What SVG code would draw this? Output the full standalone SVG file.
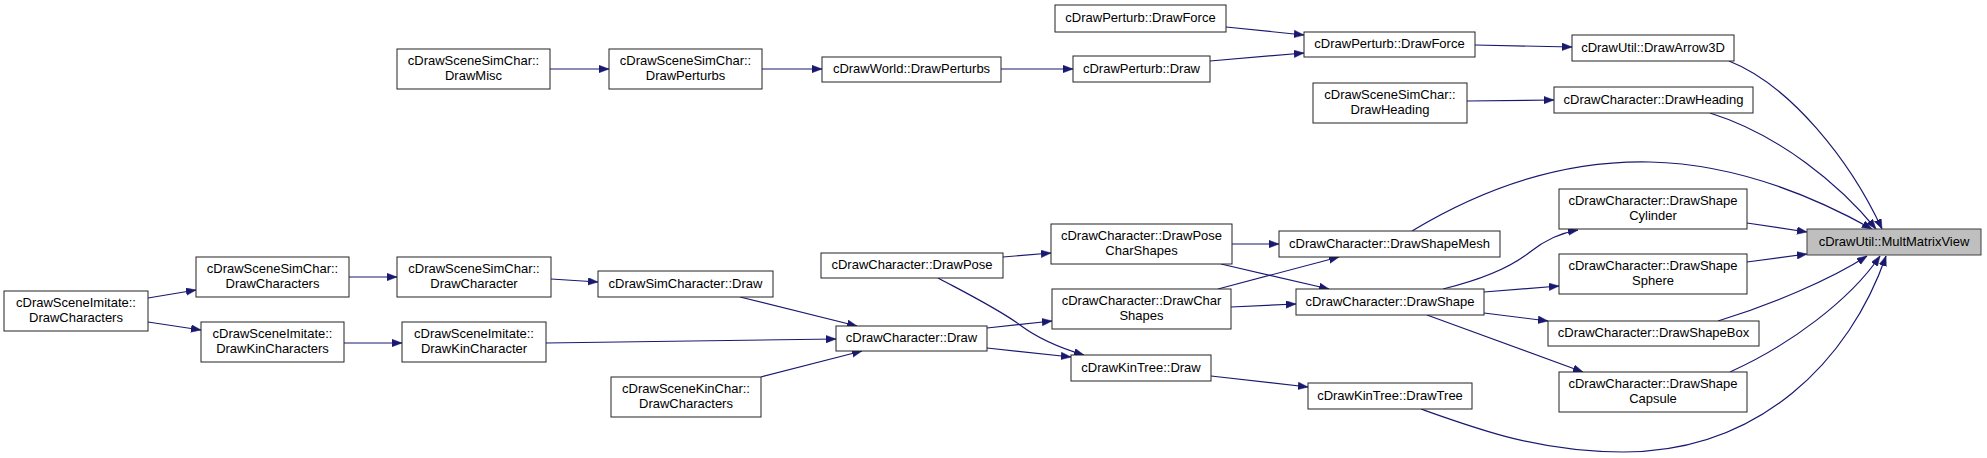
<svg xmlns="http://www.w3.org/2000/svg" width="1987" height="458" viewBox="0 0 1987 458">
<style>
.n rect{fill:#fff;stroke:#222;stroke-width:1}
.f rect{fill:#bfbfbf;stroke:#404040;stroke-width:1}
text{font-family:"Liberation Sans",Arial,sans-serif;font-size:13px;fill:#000;text-anchor:middle}
.e path{fill:none;stroke:#191970;stroke-width:1.2;marker-end:url(#ah)}
</style>
<defs>
<marker id="ah" markerUnits="userSpaceOnUse" markerWidth="11" markerHeight="8" refX="10" refY="3.75" orient="auto">
<path d="M0,0 L10,3.75 L0,7.5 z" fill="#191970" stroke="#191970" stroke-width="0.5"/>
</marker>
</defs>
<rect width="1987" height="458" fill="#fff"/>
<g class="e" id="edges">
<path d="M550,69 L609,69"/>
<path d="M762,69 L822,69"/>
<path d="M1001,69 L1073,69"/>
<path d="M1210,61 L1304,53"/>
<path d="M1226,27 L1304,35"/>
<path d="M1475,45 L1572,47"/>
<path d="M1467,101 L1554,100"/>
<path d="M1729,61 C1790,85 1850,160 1882,229"/>
<path d="M1710,113 C1780,135 1840,185 1876,229"/>
<path d="M1412,231 C1480,190 1560,160 1650,162 C1740,164 1820,200 1872,229"/>
<path d="M1443,289 C1480,280 1510,268 1530,252 C1545,240 1560,233 1578,230"/>
<path d="M1484,292 L1559,286"/>
<path d="M1484,313 L1548,321"/>
<path d="M1427,315 L1583,372"/>
<path d="M1747,223 L1807,232"/>
<path d="M1747,262 L1807,254"/>
<path d="M1718,321 C1770,305 1830,280 1867,256"/>
<path d="M1730,372 C1790,345 1850,300 1880,256"/>
<path d="M1421,409 C1480,430 1540,452 1623,452 C1760,452 1850,360 1886,256"/>
<path d="M148,298 L196,290"/>
<path d="M148,322 L201,330"/>
<path d="M349,277 L397,277"/>
<path d="M344,343 L402,343"/>
<path d="M551,279 L598,282"/>
<path d="M546,343 L836,339"/>
<path d="M740,297 L857,326"/>
<path d="M761,377 L862,351"/>
<path d="M987,328 L1052,321"/>
<path d="M987,348 L1071,357"/>
<path d="M1003,257 L1051,253"/>
<path d="M938,278 C970,295 1000,310 1020,325 C1040,340 1060,348 1084,355"/>
<path d="M1232,244 L1279,244"/>
<path d="M1221,264 L1329,289"/>
<path d="M1218,289 L1339,257"/>
<path d="M1231,307 L1296,304"/>
<path d="M1211,376 L1308,387"/>
</g>
<g class="n" id="n1"><rect x="397" y="49" width="153" height="40"/><text x="473.5" y="65">cDrawSceneSimChar::</text><text x="473.5" y="80">DrawMisc</text></g>
<g class="n" id="n2"><rect x="609" y="49" width="153" height="40"/><text x="685.5" y="65">cDrawSceneSimChar::</text><text x="685.5" y="80">DrawPerturbs</text></g>
<g class="n" id="n3"><rect x="822" y="57" width="179" height="25"/><text x="911.5" y="73">cDrawWorld::DrawPerturbs</text></g>
<g class="n" id="n4"><rect x="1073" y="56" width="137" height="26"/><text x="1141.5" y="73">cDrawPerturb::Draw</text></g>
<g class="n" id="n5"><rect x="1055" y="5" width="171" height="27"/><text x="1140.5" y="22">cDrawPerturb::DrawForce</text></g>
<g class="n" id="n6"><rect x="1304" y="32" width="171" height="25"/><text x="1389.5" y="48">cDrawPerturb::DrawForce</text></g>
<g class="n" id="n7"><rect x="1572" y="35" width="162" height="26"/><text x="1653" y="52">cDrawUtil::DrawArrow3D</text></g>
<g class="n" id="n8"><rect x="1313" y="83" width="154" height="40"/><text x="1390" y="99">cDrawSceneSimChar::</text><text x="1390" y="114">DrawHeading</text></g>
<g class="n" id="n9"><rect x="1554" y="87" width="199" height="26"/><text x="1653.5" y="104">cDrawCharacter::DrawHeading</text></g>
<g class="f" id="n10"><rect x="1807" y="229" width="174" height="26"/><text x="1894" y="246">cDrawUtil::MultMatrixView</text></g>
<g class="n" id="n11"><rect x="1559" y="189" width="188" height="40"/><text x="1653" y="205">cDrawCharacter::DrawShape</text><text x="1653" y="220">Cylinder</text></g>
<g class="n" id="n12"><rect x="1559" y="254" width="188" height="40"/><text x="1653" y="270">cDrawCharacter::DrawShape</text><text x="1653" y="285">Sphere</text></g>
<g class="n" id="n13"><rect x="1548" y="321" width="211" height="25"/><text x="1653.5" y="337">cDrawCharacter::DrawShapeBox</text></g>
<g class="n" id="n14"><rect x="1559" y="372" width="188" height="40"/><text x="1653" y="388">cDrawCharacter::DrawShape</text><text x="1653" y="403">Capsule</text></g>
<g class="n" id="n15"><rect x="1279" y="231" width="221" height="26"/><text x="1389.5" y="248">cDrawCharacter::DrawShapeMesh</text></g>
<g class="n" id="n16"><rect x="1296" y="289" width="188" height="26"/><text x="1390" y="306">cDrawCharacter::DrawShape</text></g>
<g class="n" id="n17"><rect x="1051" y="224" width="181" height="40"/><text x="1141.5" y="240">cDrawCharacter::DrawPose</text><text x="1141.5" y="255">CharShapes</text></g>
<g class="n" id="n18"><rect x="1052" y="289" width="179" height="40"/><text x="1141.5" y="305">cDrawCharacter::DrawChar</text><text x="1141.5" y="320">Shapes</text></g>
<g class="n" id="n19"><rect x="1071" y="355" width="140" height="26"/><text x="1141" y="372">cDrawKinTree::Draw</text></g>
<g class="n" id="n20"><rect x="1308" y="383" width="164" height="26"/><text x="1390" y="400">cDrawKinTree::DrawTree</text></g>
<g class="n" id="n21"><rect x="821" y="253" width="182" height="25"/><text x="912" y="269">cDrawCharacter::DrawPose</text></g>
<g class="n" id="n22"><rect x="836" y="326" width="151" height="25"/><text x="911.5" y="342">cDrawCharacter::Draw</text></g>
<g class="n" id="n23"><rect x="598" y="271" width="175" height="26"/><text x="685.5" y="288">cDrawSimCharacter::Draw</text></g>
<g class="n" id="n24"><rect x="611" y="377" width="150" height="40"/><text x="686" y="393">cDrawSceneKinChar::</text><text x="686" y="408">DrawCharacters</text></g>
<g class="n" id="n25"><rect x="397" y="257" width="154" height="40"/><text x="474" y="273">cDrawSceneSimChar::</text><text x="474" y="288">DrawCharacter</text></g>
<g class="n" id="n26"><rect x="402" y="322" width="144" height="40"/><text x="474" y="338">cDrawSceneImitate::</text><text x="474" y="353">DrawKinCharacter</text></g>
<g class="n" id="n27"><rect x="196" y="257" width="153" height="40"/><text x="272.5" y="273">cDrawSceneSimChar::</text><text x="272.5" y="288">DrawCharacters</text></g>
<g class="n" id="n28"><rect x="201" y="322" width="143" height="40"/><text x="272.5" y="338">cDrawSceneImitate::</text><text x="272.5" y="353">DrawKinCharacters</text></g>
<g class="n" id="n29"><rect x="4" y="291" width="144" height="40"/><text x="76" y="307">cDrawSceneImitate::</text><text x="76" y="322">DrawCharacters</text></g>
</svg>
